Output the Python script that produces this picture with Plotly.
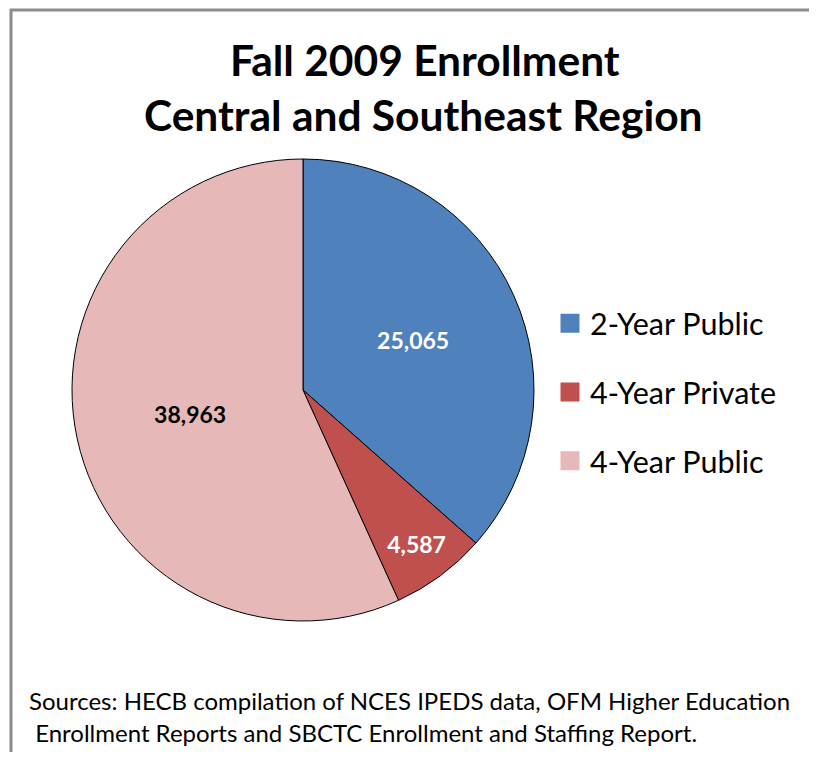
import plotly.graph_objects as go

categories = ["2-Year Public", "4-Year Private", "4-Year Public"]
values = [25065, 4587, 38963]
colors = ["#4F81BD", "#C0504D", "#E6B9B8"]
label_colors = ["white", "white", "black"]
title_lines = ["Fall 2009 Enrollment", "Central and Southeast Region"]
source_lines = ["Sources: HECB compilation of NCES IPEDS data, OFM Higher Education",
                " Enrollment Reports and SBCTC Enrollment and Staffing Report."]

# the page has an 8px body margin; size the figure so the page does not overflow
OFF = 8
W, H = 817 - 2 * OFF, 760 - 2 * OFF
FONT = "Lato, 'Open Sans', sans-serif"


def xp(px):
    return (px - OFF) / W


def yp(py):
    return 1 - (py - OFF) / H


fig = go.Figure()
fig.add_trace(go.Pie(
    labels=categories, values=values, sort=False, direction="clockwise",
    rotation=0,
    marker=dict(colors=colors, line=dict(color="black", width=1)),
    texttemplate="%{value:,}", textposition="inside",
    insidetextorientation="horizontal",
    textfont=dict(family=FONT, size=23, color=label_colors, weight="bold"),
    domain=dict(x=[xp(72), xp(534)], y=[yp(621), yp(159)]),
    showlegend=False, hoverinfo="label+value+percent",
))

# legend entries (one group each so they can be spaced apart)
for cat, col in zip(categories, colors):
    fig.add_trace(go.Scatter(
        x=[None], y=[None], mode="markers", name=cat, legendgroup=cat,
        marker=dict(symbol="square", size=20, color=col,
                    line=dict(color=col, width=3)),
        showlegend=True,
    ))

annotations = [
    dict(text=f"<b>{title_lines[0]}</b>", x=xp(425), y=yp(60)),
    dict(text=f"<b>{title_lines[1]}</b>", x=xp(423), y=yp(115)),
]
for a in annotations:
    a.update(xref="paper", yref="paper", showarrow=False, yanchor="middle",
             xanchor="center", font=dict(size=42.5, family=FONT, color="black"))
for line, py in zip(source_lines, [700, 732]):
    annotations.append(dict(
        text=line.replace(" ", "&nbsp;", 1) if line.startswith(" ") else line,
        x=xp(27), y=yp(py), xref="paper", yref="paper",
        showarrow=False, xanchor="left", yanchor="middle", align="left",
        font=dict(size=24, family=FONT, color="black")))

border = dict(color="#8C8C8C", width=3)
fig.update_layout(
    width=W, height=H,
    margin=dict(l=0, r=0, t=0, b=0),
    paper_bgcolor="white", plot_bgcolor="white",
    xaxis=dict(visible=False), yaxis=dict(visible=False),
    font=dict(family=FONT, color="black"),
    legend=dict(
        x=xp(550), y=yp(297), xanchor="left", yanchor="top",
        font=dict(size=30.5, family=FONT, color="black"),
        tracegroupgap=26, itemwidth=30,
        bgcolor="rgba(0,0,0,0)",
    ),
    shapes=[
        dict(type="line", xref="paper", yref="paper",
             x0=xp(10), x1=1.05, y0=yp(10), y1=yp(10), line=border),
        dict(type="line", xref="paper", yref="paper",
             x0=xp(11), x1=xp(11), y0=yp(9), y1=-0.05, line=border),
    ],
    annotations=annotations,
)

fig.write_html("out.html")
